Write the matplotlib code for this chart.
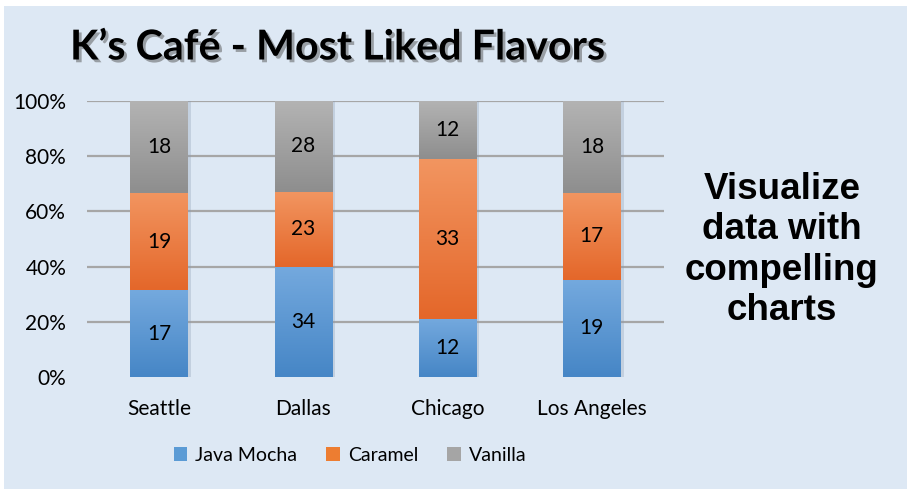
import matplotlib
matplotlib.use("Agg")
import matplotlib.pyplot as plt
import matplotlib.patheffects as pe
from matplotlib.patches import Rectangle, Patch
from matplotlib.colors import LinearSegmentedColormap
import numpy as np

cities = ["Seattle", "Dallas", "Chicago", "Los Angeles"]
java_mocha = [17, 34, 12, 19]
caramel = [19, 23, 33, 17]
vanilla = [18, 28, 12, 18]
series_names = ["Java Mocha", "Caramel", "Vanilla"]
y_ticks = [0, 20, 40, 60, 80, 100]
y_tick_labels = ["0%", "20%", "40%", "60%", "80%", "100%"]
title = "K\u2019s Caf\u00e9 - Most Liked Flavors"
side_text = "Visualize\ndata with\ncompelling\ncharts"

base_colors = ["#5b9bd5", "#ed7d31", "#a5a5a5"]
grad_top = ["#74a9de", "#f29560", "#b3b3b3"]
grad_bot = ["#4686c6", "#e4672a", "#8e8e8e"]

W, H = 912, 494
fig = plt.figure(figsize=(W / 100, H / 100), dpi=100, facecolor="white")
fig.patches.append(Rectangle((4 / W, 1 - 489 / H), 903 / W, 483 / H,
                             transform=fig.transFigure, facecolor="#dde8f4",
                             edgecolor="none", zorder=-10))

ax = fig.add_axes([87 / W, 1 - 377 / H, 577 / W, 276 / H])
ax.set_facecolor("none")
for s in ax.spines.values():
    s.set_visible(False)

data = np.array([java_mocha, caramel, vanilla], dtype=float)
totals = data.sum(axis=0)
pct = data / totals * 100
x = np.arange(len(cities))
width = 0.40

for yv in y_ticks[1:]:
    ax.axhline(yv, color="#a6a6a6", lw=1.6, zorder=1)

bottom = np.zeros(len(cities))
for i in range(3):
    bars = ax.bar(x, pct[i], width, bottom=bottom, color=base_colors[i],
                  edgecolor="none", zorder=3)
    cmap = LinearSegmentedColormap.from_list("g%d" % i, [grad_bot[i], grad_top[i]])
    for j, b in enumerate(bars):
        x0, y0 = b.get_x(), b.get_y()
        w, h = b.get_width(), b.get_height()
        grad = np.linspace(0, 1, 100).reshape(-1, 1)
        im = ax.imshow(grad, extent=[x0, x0 + w, y0, y0 + h], origin="lower",
                       aspect="auto", cmap=cmap, zorder=4)
        im.set_clip_path(b)
        ax.text(x0 + w / 2, y0 + h / 2, str(int(data[i, j])), ha="center",
                va="center", fontsize=15, family="Lato", color="black", zorder=6)
    bottom += pct[i]

# shadows
for j in range(len(cities)):
    ax.add_patch(Rectangle((x[j] - width / 2 + 0.02, 0), width, 100,
                           facecolor="#8a9bb0", alpha=0.3, edgecolor="none",
                           zorder=2))

ax.set_xlim(-0.5, len(cities) - 0.5)
ax.set_ylim(0, 100)
ax.set_yticks(y_ticks)
ax.set_yticklabels(y_tick_labels, fontsize=15, family="Lato")
ax.set_xticks(x)
ax.set_xticklabels(cities, fontsize=15, family="Lato")
ax.tick_params(axis="y", length=0, pad=15)
ax.tick_params(axis="x", length=0, pad=16)

handles = [Patch(facecolor=c, edgecolor="none") for c in base_colors]
fig.legend(handles, series_names, loc="center", bbox_to_anchor=(350 / W, 1 - 455 / H),
           ncol=3, frameon=False, prop={"family": "Lato", "size": 14},
           handlelength=0.7, handleheight=0.7, handletextpad=0.4, columnspacing=1.5)

fig.text(70 / W, 1 - 48 / H, title, ha="left", va="center", fontsize=29.7,
         fontweight="bold", family="Lato", color="black",
         path_effects=[pe.withSimplePatchShadow(offset=(2, -2), shadow_rgbFace="#555555", alpha=0.5)])

fig.text(782 / W, 1 - 250 / H, side_text, ha="center", va="center", fontsize=26.5,
         fontweight="bold", family="Liberation Sans", color="black", linespacing=1.2)

fig.savefig("out.png", dpi=100, facecolor="white")
